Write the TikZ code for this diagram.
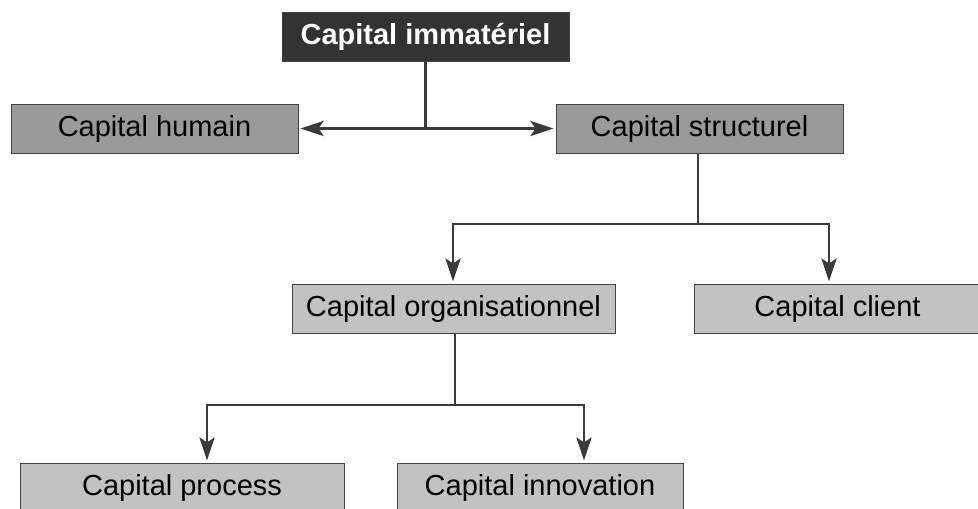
\documentclass[tikz,border=0pt]{standalone}
\usepackage{fontspec}
\setmainfont{Liberation Sans}
\usetikzlibrary{arrows.meta,calc}
\definecolor{topfill}{HTML}{333333}
\definecolor{midfill}{HTML}{9A9A9A}
\definecolor{lowfill}{HTML}{C2C2C2}
\definecolor{edge}{HTML}{444444}
\definecolor{linec}{HTML}{3A3A3A}
\tikzset{
  box/.style={draw=edge, line width=1pt, inner sep=0pt, minimum height=49pt, text=black,
    font=\fontsize{29}{34}\selectfont},
  topbox/.style={box, fill=topfill, text=white, font=\fontsize{29}{34}\selectfont\bfseries},
  midbox/.style={box, fill=midfill},
  lowbox/.style={box, fill=lowfill},
  conn/.style={draw=linec, line width=2.6pt},
  arr/.style={conn, -{Stealth[length=23pt,width=15pt,inset=5pt]}, shorten >=2pt}
}
\begin{document}
\begin{tikzpicture}[x=1pt,y=-1pt]
\clip (0,0) rectangle (978,509);
\fill[white] (0,0) rectangle (978,509);
\node[topbox, minimum width=287pt] (top) at (425.5,36.5) {Capital immatériel};
\node[midbox, minimum width=287pt] (hum) at (154.5,128.5) {Capital humain};
\node[midbox, minimum width=287pt] (str) at (699.5,128.5) {Capital structurel};
\node[lowbox, minimum width=323pt] (org) at (453.5,308.5) {Capital organisationnel};
\node[lowbox, minimum width=287pt] (cli) at (837.5,308.5) {Capital client};
\node[lowbox, minimum width=324pt] (pro) at (182,487.5) {Capital process};
\node[lowbox, minimum width=286pt] (inn) at (540,487.5) {Capital innovation};
% level 1
\coordinate (j1) at (top.south |- hum.east);
\draw[conn] (top.south) -- (j1);
\draw[arr] (j1) -- (hum.east);
\draw[arr] (j1) -- (str.west);
% level 2
\coordinate (j2) at (698,224);
\coordinate (l2) at (453,224);
\coordinate (r2) at (829,224);
\draw[conn] ([xshift=-1.5pt]str.south) -- (j2);
\draw[conn, line cap=rect] (l2) -- (r2);
\draw[arr] (l2) -- (l2 |- org.north);
\draw[arr] (r2) -- (r2 |- cli.north);
% level 3
\coordinate (j3) at (455,405);
\coordinate (l3) at (207,405);
\coordinate (r3) at (584,405);
\draw[conn] ([xshift=1.5pt]org.south) -- (j3);
\draw[conn, line cap=rect] (l3) -- (r3);
\draw[arr] (l3) -- (l3 |- pro.north);
\draw[arr] (r3) -- (r3 |- inn.north);
\end{tikzpicture}
\end{document}
